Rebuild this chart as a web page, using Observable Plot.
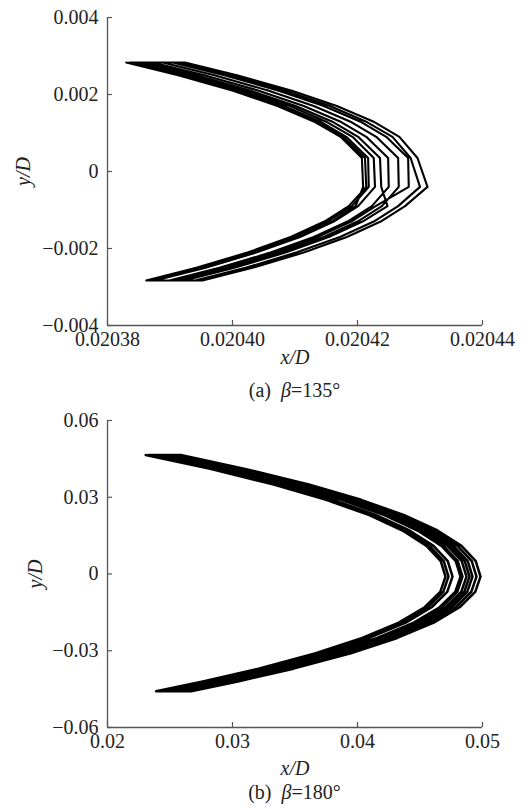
<!DOCTYPE html>
<html>
<head>
<meta charset="utf-8">
<script src="https://cdn.jsdelivr.net/npm/d3@7"></script>
<script src="https://cdn.jsdelivr.net/npm/@observablehq/plot@0.6"></script>
<style>
  html, body { margin: 0; padding: 0; background: #fff; }
  #wrap { width: 531px; }
  .cap { width: 375px; margin-left: 107px; text-align: center; font-family: "Liberation Serif", "Times New Roman", serif; font-size: 20px; color: #222; white-space: nowrap; }
  svg { overflow: visible; display: block; }
</style>
</head>
<body>
<div id="wrap"></div>
<script>
// ---------- (a) beta = 135 deg ----------
const yLevelsA = [0.00283, 0.0025, 0.0021, 0.0017, 0.0013, 0.0009, 0.00035, -0.0004, -0.0009, -0.0013, -0.0017, -0.0021, -0.0025, -0.00283];
const strokesA = [
  [0.0203830, 0.0203913, 0.0204001, 0.0204072, 0.0204130, 0.0204173, 0.0204207, 0.0204209, 0.0204197, 0.0204159, 0.0204105, 0.0204036, 0.0203953, 0.0203873],
  [0.0203924, 0.0204007, 0.0204095, 0.0204167, 0.0204225, 0.0204267, 0.0204296, 0.0204312, 0.0204276, 0.0204237, 0.0204183, 0.0204115, 0.0204032, 0.0203952],
  [0.0203835, 0.0203918, 0.0204005, 0.0204077, 0.0204135, 0.0204177, 0.0204212, 0.0204214, 0.0204186, 0.0204147, 0.0204093, 0.0204025, 0.0203942, 0.0203862],
  [0.0203913, 0.0203996, 0.0204084, 0.0204156, 0.0204213, 0.0204256, 0.0204285, 0.0204300, 0.0204265, 0.0204226, 0.0204172, 0.0204103, 0.0204021, 0.0203940],
  [0.0203840, 0.0203923, 0.0204010, 0.0204082, 0.0204140, 0.0204182, 0.0204217, 0.0204218, 0.0204191, 0.0204152, 0.0204098, 0.0204030, 0.0203947, 0.0203867],
  [0.0203904, 0.0203987, 0.0204074, 0.0204146, 0.0204204, 0.0204246, 0.0204281, 0.0204282, 0.0204229, 0.0204190, 0.0204136, 0.0204068, 0.0203985, 0.0203905],
  [0.0203849, 0.0203932, 0.0204020, 0.0204092, 0.0204149, 0.0204192, 0.0204226, 0.0204228, 0.0204201, 0.0204162, 0.0204108, 0.0204039, 0.0203957, 0.0203876],
  [0.0203888, 0.0203971, 0.0204058, 0.0204130, 0.0204188, 0.0204230, 0.0204265, 0.0204266, 0.0204239, 0.0204200, 0.0204146, 0.0204078, 0.0203995, 0.0203915],
  [0.0203859, 0.0203942, 0.0204029, 0.0204101, 0.0204159, 0.0204201, 0.0204236, 0.0204238, 0.0204248, 0.0204208, 0.0204154, 0.0204086, 0.0204003, 0.0203923],
  [0.0203872, 0.0203955, 0.0204042, 0.0204114, 0.0204172, 0.0204214, 0.0204249, 0.0204250, 0.0204223, 0.0204184, 0.0204130, 0.0204062, 0.0203979, 0.0203899]
];
const xTicksA = [0.02038, 0.02040, 0.02042, 0.02044];
const xTickLabelsA = ["0.02038", "0.02040", "0.02042", "0.02044"];
const yTicksA = [0.004, 0.002, 0, -0.002, -0.004];
const yTickLabelsA = ["0.004", "0.002", "0", "\u22120.002", "\u22120.004"];

// ---------- (b) beta = 180 deg ----------
const yLevelsB = [0.0465, 0.041, 0.035, 0.029, 0.023, 0.017, 0.011, 0.005, -0.001, -0.007, -0.013, -0.019, -0.025, -0.031, -0.037, -0.042, -0.0458];
const strokesB = [
  [0.02306, 0.02830, 0.03330, 0.03749, 0.04094, 0.04360, 0.04552, 0.04666, 0.04704, 0.04662, 0.04537, 0.04330, 0.04038, 0.03666, 0.03208, 0.02763, 0.02389],
  [0.02586, 0.03110, 0.03610, 0.04029, 0.04374, 0.04640, 0.04832, 0.04946, 0.04984, 0.04942, 0.04817, 0.04610, 0.04318, 0.03946, 0.03488, 0.03043, 0.02669],
  [0.02330, 0.02854, 0.03354, 0.03773, 0.04118, 0.04384, 0.04576, 0.04690, 0.04728, 0.04686, 0.04561, 0.04354, 0.04062, 0.03690, 0.03232, 0.02787, 0.02413],
  [0.02554, 0.03078, 0.03578, 0.03997, 0.04342, 0.04608, 0.04800, 0.04914, 0.04952, 0.04910, 0.04785, 0.04578, 0.04286, 0.03914, 0.03456, 0.03011, 0.02637],
  [0.02362, 0.02886, 0.03386, 0.03805, 0.04150, 0.04416, 0.04608, 0.04722, 0.04760, 0.04718, 0.04593, 0.04386, 0.04094, 0.03722, 0.03264, 0.02819, 0.02445],
  [0.02522, 0.03046, 0.03546, 0.03965, 0.04310, 0.04576, 0.04768, 0.04882, 0.04920, 0.04878, 0.04753, 0.04546, 0.04254, 0.03882, 0.03424, 0.02979, 0.02605],
  [0.02426, 0.02950, 0.03450, 0.03869, 0.04214, 0.04480, 0.04672, 0.04786, 0.04824, 0.04782, 0.04657, 0.04450, 0.04158, 0.03786, 0.03328, 0.02883, 0.02509],
  [0.02498, 0.03022, 0.03522, 0.03941, 0.04286, 0.04552, 0.04744, 0.04858, 0.04896, 0.04854, 0.04729, 0.04522, 0.04230, 0.03858, 0.03400, 0.02955, 0.02581],
  [0.02442, 0.02966, 0.03466, 0.03885, 0.04230, 0.04496, 0.04688, 0.04802, 0.04840, 0.04798, 0.04673, 0.04466, 0.04174, 0.03802, 0.03344, 0.02899, 0.02525],
  [0.02474, 0.02998, 0.03498, 0.03917, 0.04262, 0.04528, 0.04720, 0.04834, 0.04872, 0.04830, 0.04705, 0.04498, 0.04206, 0.03834, 0.03376, 0.02931, 0.02557]
];
const xTicksB = [0.02, 0.03, 0.04, 0.05];
const xTickLabelsB = ["0.02", "0.03", "0.04", "0.05"];
const yTicksB = [0.06, 0.03, 0, -0.03, -0.06];
const yTickLabelsB = ["0.06", "0.03", "0", "\u22120.03", "\u22120.06"];

// Build a continuous trajectory (alternate stroke directions)
function trajectory(strokes, levels) {
  const rows = [];
  strokes.forEach((s, k) => {
    const pts = s.map((x, i) => ({x, y: levels[i]}));
    if (k % 2 === 1) pts.reverse();
    rows.push(...pts);
  });
  return rows;
}

const FONT = "'Liberation Serif', 'Times New Roman', serif";
const AXIS = "#555";

function panel(cfg) {
  const plotW = 531 - 107 - 49;
  const plotH = cfg.height - cfg.marginTop - cfg.marginBottom;
  return Plot.plot({
    width: 531,
    height: cfg.height,
    marginLeft: 107,
    marginRight: 49,
    marginTop: cfg.marginTop,
    marginBottom: cfg.marginBottom,
    style: {fontFamily: FONT, fontSize: "20px", color: "#222", background: "white", overflow: "visible"},
    x: {domain: cfg.xDomain},
    y: {domain: cfg.yDomain},
    marks: [
      Plot.line(trajectory(cfg.strokes, cfg.levels), {x: "x", y: "y", stroke: "black", strokeWidth: cfg.lw, strokeLinejoin: "round"}),
      Plot.ruleY([cfg.yDomain[0]], {stroke: AXIS, strokeWidth: 1.3}),
      Plot.ruleX([cfg.xDomain[0]], {stroke: AXIS, strokeWidth: 1.3}),
      Plot.ruleX(cfg.xTicks, {stroke: AXIS, strokeWidth: 1.2, insetTop: plotH - 5}),
      Plot.ruleY(cfg.yTicks, {stroke: AXIS, strokeWidth: 1.2, insetRight: plotW - 5}),
      Plot.axisX(cfg.xTicks, {tickSize: 0, tickPadding: 6, label: null, fill: "#222",
        tickFormat: d => cfg.xLabels[cfg.xTicks.indexOf(d)]}),
      Plot.axisY(cfg.yTicks, {tickSize: 0, tickPadding: 9, label: null, fill: "#222",
        tickFormat: d => cfg.yLabels[cfg.yTicks.indexOf(d)]}),
      Plot.text(["x/D"], {frameAnchor: "bottom", dy: cfg.xLabDy, fontStyle: "italic", fill: "#222", lineAnchor: "middle"}),
      Plot.text(["y/D"], {frameAnchor: "left", dx: cfg.yLabDx, rotate: -90, fontStyle: "italic", fill: "#222", textAnchor: "middle", lineAnchor: "middle"})
    ]
  });
}

const wrap = document.getElementById("wrap");

wrap.append(panel({
  height: 372, marginTop: 17, marginBottom: 47,
  xDomain: [0.02038, 0.02044], yDomain: [-0.004, 0.004],
  strokes: strokesA, levels: yLevelsA, lw: 2.1,
  xTicks: xTicksA, xLabels: xTickLabelsA, yTicks: yTicksA, yLabels: yTickLabelsA,
  xLabDy: 32, yLabDx: -84
}));
const cap1 = document.createElement("div");
cap1.className = "cap";
cap1.style.height = "36px"; cap1.style.lineHeight = "36px";
cap1.innerHTML = "(a)&nbsp;&nbsp;<i>β</i>=135°";
wrap.append(cap1);

wrap.append(panel({
  height: 369, marginTop: 12, marginBottom: 50,
  xDomain: [0.02, 0.05], yDomain: [-0.06, 0.06],
  strokes: strokesB, levels: yLevelsB, lw: 2.5,
  xTicks: xTicksB, xLabels: xTickLabelsB, yTicks: yTicksB, yLabels: yTickLabelsB,
  xLabDy: 41, yLabDx: -72
}));
const cap2 = document.createElement("div");
cap2.className = "cap";
cap2.style.height = "30px"; cap2.style.lineHeight = "30px";
cap2.innerHTML = "(b)&nbsp;&nbsp;<i>β</i>=180°";
wrap.append(cap2);
</script>
</body>
</html>
